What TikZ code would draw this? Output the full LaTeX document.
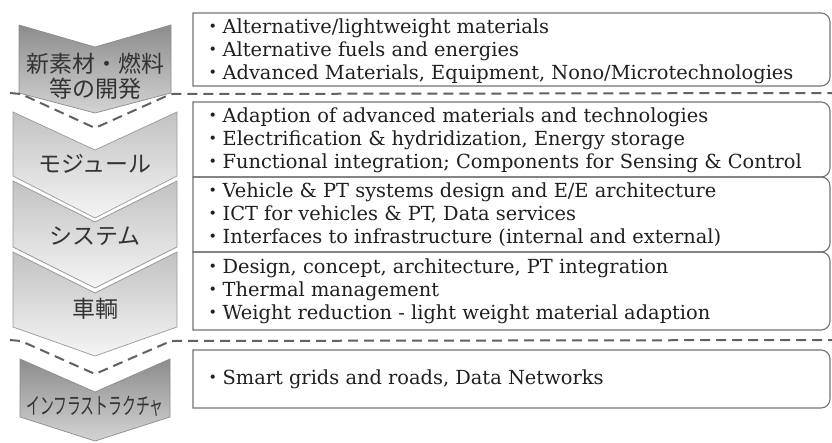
\documentclass[tikz,border=0pt]{standalone}
\usepackage{fontspec}
\setmainfont{DejaVu Serif}
\newfontfamily\cjk{Noto Sans CJK JP}
\newcommand\dotitem{{\cjk ・}}
\tikzset{
  x=1pt, y=-1pt,
  chevdark/.style={draw=black!45, line width=0.7pt, top color=black!45, bottom color=black!17},
  chevlight/.style={draw=black!40, line width=0.7pt, top color=black!24, bottom color=black!4},
  itembox/.style={draw=black!55, line width=1.1pt},
  sepline/.style={draw=black!62, line width=2pt, dash pattern=on 10pt off 6pt},
  items/.style={anchor=west, align=left, inner sep=0pt, text=black!88,
    font=\fontsize{19.4}{23}\selectfont},
  jlabel/.style={align=center, inner sep=0pt, text=black!80,
    font=\cjk\fontsize{23}{25}\selectfont},
}
\begin{document}
\begin{tikzpicture}
\useasboundingbox (0,0) rectangle (832,442);
\clip (0,0) rectangle (832,442);

% stage chevrons
\path[chevdark]  (19,25)  -- (95,47)  -- (171,25)  -- (171,93)  -- (95,113) -- (19,93)  -- cycle;
\path[chevlight] (13,112) -- (95,150) -- (177,112) -- (177,176) -- (95,218) -- (13,176) -- cycle;
\path[chevlight] (13,181) -- (95,222) -- (177,181) -- (177,247) -- (95,288) -- (13,247) -- cycle;
\path[chevlight] (13,252) -- (95,293) -- (177,252) -- (177,327) -- (95,356) -- (13,327) -- cycle;
\path[chevdark]  (20,359) -- (95,392) -- (170,359) -- (170,417) -- (95,441) -- (20,417) -- cycle;

\node[jlabel] (lab1) at (95,76) {新素材・燃料\\等の開発};
\node[jlabel] (lab2) at (95,164) {モジュール};
\node[jlabel] (lab3) at (95,236) {システム};
\node[jlabel] (lab4) at (95,309) {車輌};
\node[jlabel] (lab5) at (95,406) {\scalebox{0.6}[1]{インフラストラクチャ}};

% item boxes, rounded on the right only
\draw[itembox] (193,13)  [rounded corners=9pt] -- (830,13)  -- (830,86)  [sharp corners] -- (193,86)  -- cycle;
\draw[itembox] (193,102) [rounded corners=9pt] -- (830,102) -- (830,177) [sharp corners] -- (193,177) -- cycle;
\draw[itembox] (193,177) [rounded corners=9pt] -- (830,177) -- (830,252) [sharp corners] -- (193,252) -- cycle;
\draw[itembox] (193,252) [rounded corners=9pt] -- (830,252) -- (830,330) [sharp corners] -- (193,330) -- cycle;
\draw[itembox] (193,350) [rounded corners=9pt] -- (830,350) -- (830,408) [sharp corners] -- (193,408) -- cycle;

\node[items] (it1) at (203,51) {\dotitem Alternative/lightweight materials\\
  \dotitem Alternative fuels and energies\\
  \dotitem Advanced Materials, Equipment, Nono/Microtechnologies};
\node[items] (it2) at (203,140) {\dotitem Adaption of advanced materials and technologies\\
  \dotitem Electrification \& hydridization, Energy storage\\
  \dotitem Functional integration; Components for Sensing \& Control};
\node[items] (it3) at (203,215) {\dotitem Vehicle \& PT systems design and E/E architecture\\
  \dotitem ICT for vehicles \& PT, Data services\\
  \dotitem Interfaces to infrastructure (internal and external)};
\node[items] (it4) at (203,291) {\dotitem Design, concept, architecture, PT integration\\
  \dotitem Thermal management\\
  \dotitem Weight reduction - light weight material adaption};
\node[items] (it5) at (203,379) {\dotitem Smart grids and roads, Data Networks};

% dashed stage boundaries
\draw[sepline] (10,93) -- (21,94) -- (95,128) -- (171,94) -- (832,93);
\draw[sepline] (10,340) -- (21,341) -- (95,374) -- (171,341) -- (832,340);
\end{tikzpicture}
\end{document}
